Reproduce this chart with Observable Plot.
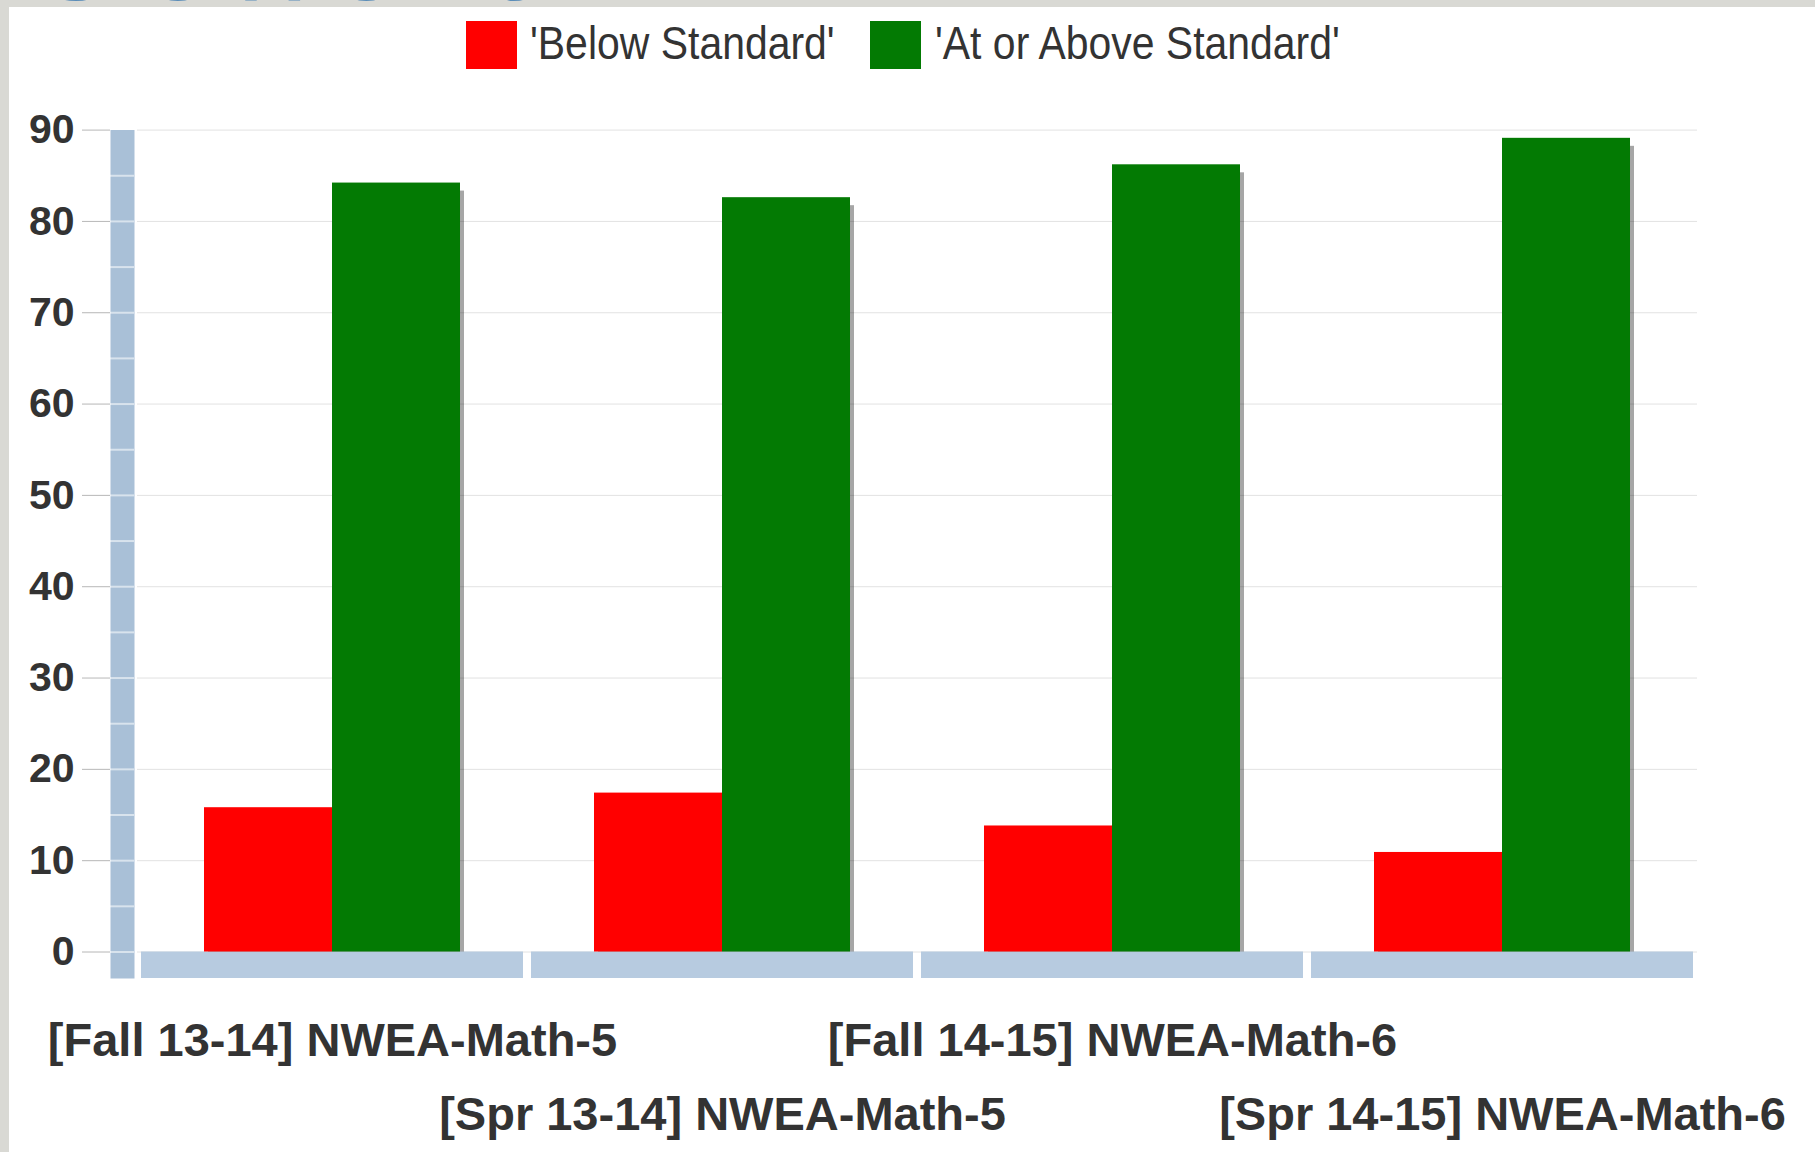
<!DOCTYPE html>
<html><head><meta charset="utf-8">
<script src="https://cdn.jsdelivr.net/npm/d3@7"></script>
<script src="https://cdn.jsdelivr.net/npm/@observablehq/plot@0.6"></script>
<style>
html,body{margin:0;padding:0;}
body{width:1815px;height:1152px;position:relative;overflow:hidden;background:#d9d9d4;font-family:"Liberation Sans",Arial,sans-serif;}
#title{position:absolute;left:26px;top:-110px;font-size:130px;letter-spacing:22px;color:#5b8db8;line-height:1;white-space:nowrap;}
#panel{position:absolute;left:9px;top:7px;right:0;bottom:0;background:#fff;}
.sw{position:absolute;top:21px;width:51px;height:48px;}
.lt{position:absolute;top:17px;font-size:46px;color:#333;transform:scaleX(0.89);transform-origin:left center;white-space:nowrap;line-height:52px;}
#chart{position:absolute;left:0;top:80px;}
</style>
</head>
<body>
<div id="title">Cohort</div>
<div id="panel"></div>
<div id="legend"></div>
<div id="chart"></div>
<script>
const categories = [
  "[Fall 13-14] NWEA-Math-5",
  "[Spr 13-14] NWEA-Math-5",
  "[Fall 14-15] NWEA-Math-6",
  "[Spr 14-15] NWEA-Math-6"
];
const seriesNames = ["'Below Standard'", "'At or Above Standard'"];
const belowStandard = [15.8, 17.4, 13.8, 10.9];
const atOrAboveStandard = [84.2, 82.6, 86.2, 89.1];
const yTicks = [0, 10, 20, 30, 40, 50, 60, 70, 80, 90];
const seriesColors = ["#ff0000", "#037a03"];

const data = categories.flatMap((c, i) => [
  {category: c, series: seriesNames[0], value: belowStandard[i]},
  {category: c, series: seriesNames[1], value: atOrAboveStandard[i]}
]);

// legend (HTML, above the SVG)
const legend = document.getElementById("legend");
const legendPos = [[466, 530], [870, 935]];
seriesNames.forEach((s, i) => {
  const sw = document.createElement("div");
  sw.className = "sw";
  sw.style.left = legendPos[i][0] + "px";
  sw.style.background = seriesColors[i];
  legend.appendChild(sw);
  const t = document.createElement("div");
  t.className = "lt";
  t.style.left = legendPos[i][1] + "px";
  t.textContent = s;
  legend.appendChild(t);
});

const labelStyle = {fontSize: 47, fontWeight: "bold", fill: "#333", frameAnchor: "bottom", lineAnchor: "top"};

const chart = Plot.plot({
  width: 1815,
  height: 1072,
  marginTop: 49.6,
  marginBottom: 200.5,
  marginLeft: 135,
  marginRight: 117,
  style: {background: "transparent", fontFamily: "'Liberation Sans', Arial, sans-serif", color: "#333"},
  fx: {domain: categories, padding: 0, axis: null, label: null},
  x: {domain: seriesNames, paddingInner: 0, paddingOuter: 0.514, axis: null, label: null},
  y: {domain: [0, 90], axis: null, label: null},
  color: {domain: seriesNames, range: seriesColors},
  marks: [
    Plot.gridY(yTicks, {stroke: "#e2e2e2", strokeOpacity: 1}),
    Plot.frame({anchor: "left", stroke: "#a9c0d7", strokeWidth: 24, strokeLinecap: "butt", dx: -15, insetBottom: -26.5, facet: "super"}),
    Plot.axisY(d3.range(0, 90, 5), {anchor: "left", dx: -3, tickSize: 24, stroke: "#ffffff", strokeOpacity: 0.55, strokeWidth: 2, fill: "none", label: null}),
    Plot.axisY(yTicks, {anchor: "left", dx: -27, tickSize: 28, tickPadding: 8, fontSize: 41, fontWeight: "bold", fill: "#333", stroke: "#999", strokeOpacity: 0.7, label: null}),
    Plot.barY(data, {fx: "category", x: "series", y: "value", fill: "#000", fillOpacity: 0.35, dx: 4, dy: 8}),
    Plot.rect(categories, {fx: d => d, y1: 0, y2: 0, insetLeft: 4, insetRight: 4, insetBottom: -26.5, fill: "#b7cbe0"}),
    Plot.barY(data, {fx: "category", x: "series", y: "value", fill: "series"}),
    Plot.text(categories, {...labelStyle, fx: d => d, text: d => d, filter: (d, i) => i % 2 === 0, dy: 70.7}),
    Plot.text(categories, {...labelStyle, fx: d => d, text: d => d, filter: (d, i) => i % 2 === 1, dy: 144.7})
  ]
});
document.getElementById("chart").appendChild(chart);
</script>
</body></html>
